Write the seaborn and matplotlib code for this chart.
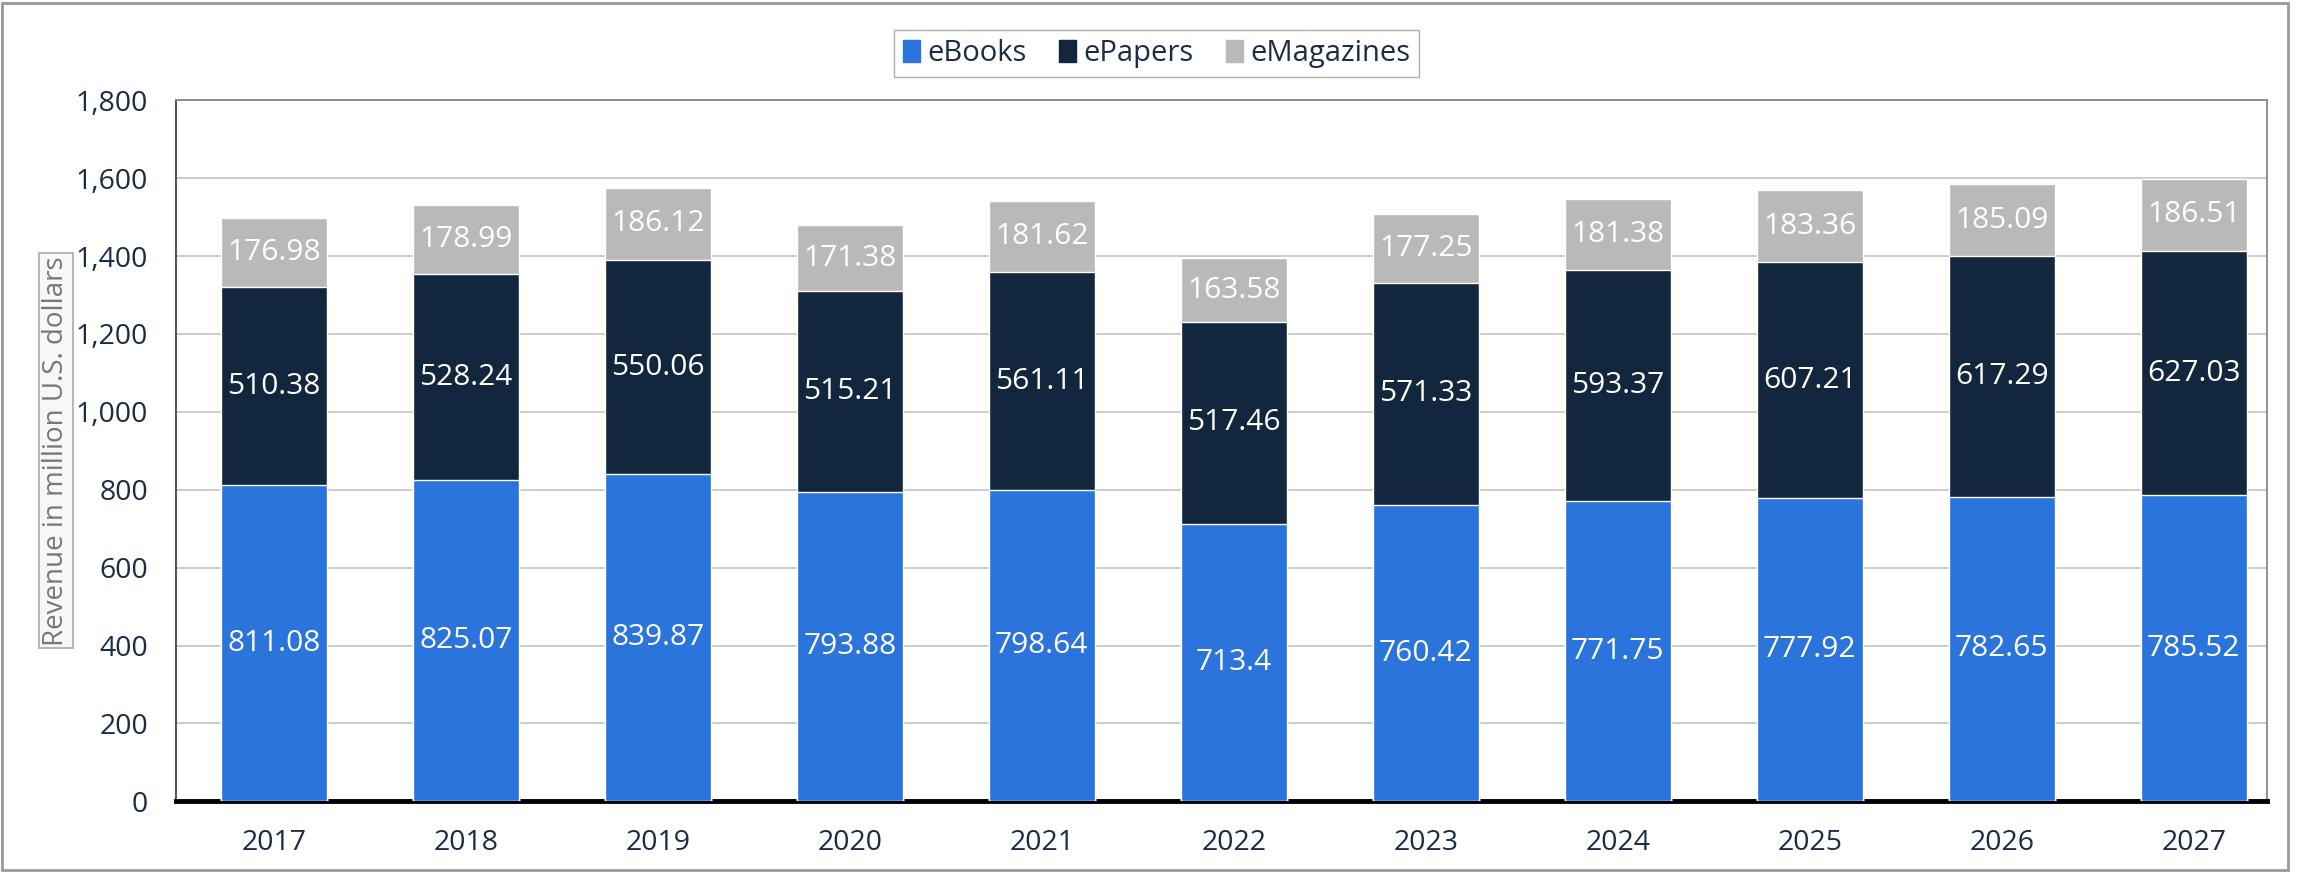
import numpy as np
import pandas as pd
import matplotlib
matplotlib.use('Agg')
import matplotlib.pyplot as plt
import seaborn as sns
from matplotlib.patches import Patch, Rectangle

# Dados do gráfico
anos = ['2017', '2018', '2019', '2020', '2021', '2022', '2023', '2024', '2025', '2026', '2027']
ebooks = [811.08, 825.07, 839.87, 793.88, 798.64, 713.4, 760.42, 771.75, 777.92, 782.65, 785.52]
epapers = [510.38, 528.24, 550.06, 515.21, 561.11, 517.46, 571.33, 593.37, 607.21, 617.29, 627.03]
emagazines = [176.98, 178.99, 186.12, 171.38, 181.62, 163.58, 177.25, 181.38, 183.36, 185.09, 186.51]

series = ['eBooks', 'ePapers', 'eMagazines']
cores = ['#2a74db', '#12263d', '#b9b9b9']
texto = '#1b2c48'

df = pd.DataFrame({'ano': anos, 'eBooks': ebooks, 'ePapers': epapers, 'eMagazines': emagazines})
df['ate_papers'] = df['eBooks'] + df['ePapers']
df['total'] = df['ate_papers'] + df['eMagazines']

sns.set_style('white')
plt.rcParams['font.family'] = ['Open Sans', 'DejaVu Sans']

fig, ax = plt.subplots(figsize=(23.13, 8.72), dpi=100)
fig.subplots_adjust(left=0.076, right=0.980, top=0.885, bottom=0.081)

# Barras empilhadas: desenha os totais acumulados de trás para frente
largura = 0.55
sns.barplot(data=df, x='ano', y='total', color=cores[2], width=largura, ax=ax, saturation=1, zorder=3)
sns.barplot(data=df, x='ano', y='ate_papers', color=cores[1], width=largura, ax=ax, saturation=1, zorder=3)
sns.barplot(data=df, x='ano', y='eBooks', color=cores[0], width=largura, ax=ax, saturation=1, zorder=3)

# Rótulos no centro de cada segmento
for i in range(len(anos)):
    base = 0
    for s in series:
        v = df[s].iloc[i]
        ax.text(i, base + v / 2, f'{v:g}', ha='center', va='center', color='white',
                fontsize=21.5, zorder=4)
        base += v

ax.set_ylim(0, 1800)
ax.set_yticks(range(0, 1801, 200))
ax.yaxis.set_major_formatter(matplotlib.ticker.FuncFormatter(lambda v, p: f'{v:,.0f}'))
ax.set_xlim(-0.51, len(anos) - 0.62)
ax.grid(axis='y', color='#c8c8c8', linewidth=1.3, zorder=0)
ax.set_axisbelow(True)
ax.tick_params(axis='both', labelsize=20.5, colors=texto, length=0)
ax.tick_params(axis='x', pad=20)
ax.tick_params(axis='y', pad=20)
ax.set_xlabel('')
ax.set_ylabel('Revenue in million U.S. dollars', fontsize=20, color='#777777', labelpad=4,
              bbox=dict(boxstyle='square,pad=0.1', fc='#f7f7f7', ec='#aaaaaa', lw=1.2))

for lado in ['left', 'top', 'right']:
    ax.spines[lado].set_color('#888888')
    ax.spines[lado].set_linewidth(1.3)
ax.spines['left'].set_color('#444444')
ax.spines['bottom'].set_color('black')
ax.spines['bottom'].set_linewidth(3.5)

# Legenda no topo
handles = [Patch(color=c, label=s) for s, c in zip(series, cores)]
fig.legend(handles=handles, loc='upper center', bbox_to_anchor=(0.5, 0.982), ncol=3,
           fontsize=21, frameon=True, fancybox=False, edgecolor='#999999',
           handlelength=0.6, handleheight=0.8, handletextpad=0.25, columnspacing=1.1,
           borderpad=0.3, labelcolor=texto)

# Moldura da figura
fig.patches.append(Rectangle((0.001, 0.002), 0.988, 0.995, transform=fig.transFigure,
                             fill=False, ec='#999999', lw=2))

fig.savefig('out.png', dpi=100)
